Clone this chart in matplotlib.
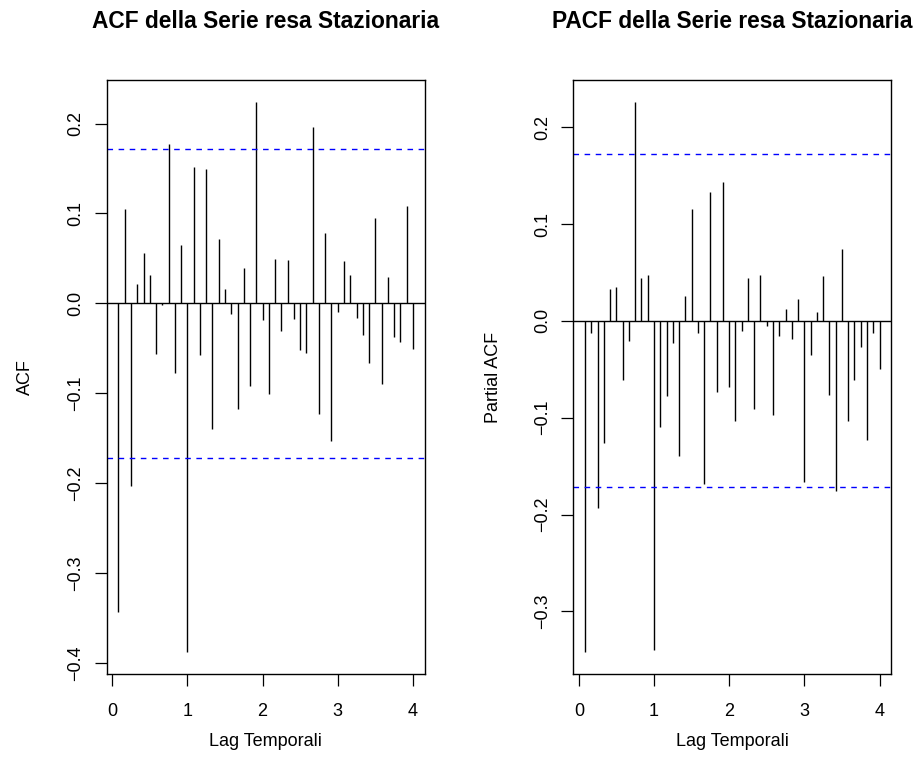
import numpy as np
import matplotlib
matplotlib.use("Agg")
import matplotlib.pyplot as plt

plt.rcParams['font.family'] = ['Liberation Sans', 'DejaVu Sans']

# Lags (in years, frequency 12)
lags = np.arange(1, 49) / 12

acf_vals = [-0.343, 0.105, -0.203, 0.021, 0.056, 0.031, -0.056, -0.002,
            0.177, -0.077, 0.065, -0.388, 0.152, -0.058, 0.150, -0.140,
            0.071, 0.016, -0.012, -0.118, 0.039, -0.092, 0.224, -0.019,
            -0.101, 0.049, -0.031, 0.048, -0.018, -0.052, -0.055, 0.196,
            -0.123, 0.078, -0.153, -0.010, 0.047, 0.031, -0.016, -0.035,
            -0.066, 0.095, -0.090, 0.029, -0.037, -0.043, 0.108, -0.051]

pacf_vals = [-0.342, -0.013, -0.193, -0.126, 0.033, 0.035, -0.061, -0.021,
             0.226, 0.044, 0.047, -0.340, -0.110, -0.078, -0.023, -0.140,
             0.026, 0.115, -0.013, -0.168, 0.133, -0.073, 0.143, -0.068,
             -0.103, -0.011, 0.044, -0.091, 0.047, -0.005, -0.097, -0.016,
             0.012, -0.019, 0.023, -0.166, -0.035, 0.009, 0.046, -0.077,
             -0.176, 0.074, -0.103, -0.061, -0.027, -0.123, -0.013, -0.050]

conf_limit = 0.172

titles = ["ACF della Serie resa Stazionaria", "PACF della Serie resa Stazionaria"]
ylabels = ["ACF", "Partial ACF"]
xlabel = "Lag Temporali"
xticks = [0, 1, 2, 3, 4]
yticks_acf = [-0.4, -0.3, -0.2, -0.1, 0.0, 0.1, 0.2]
yticks_pacf = [-0.3, -0.2, -0.1, 0.0, 0.1, 0.2]

W, H = 917, 769
fig = plt.figure(figsize=(W / 100, H / 100), dpi=100)

box_top, box_bot = 80, 674
lefts = [106.7, 573.3]
box_w = 318
box_h = box_bot - box_top

BASE = 13.0
TITLE = 16.4


def r_range(vals):
    lo, hi = min(vals), max(vals)
    lo = min(lo, -conf_limit)
    hi = max(hi, conf_limit)
    d = (hi - lo) * 0.04
    return lo - d, hi + d


ylabel_x = [25, 493]

for i, (vals, yt) in enumerate([(acf_vals, yticks_acf), (pacf_vals, yticks_pacf)]):
    ax = fig.add_axes([lefts[i] / W, (H - box_bot) / H, box_w / W, box_h / H])
    ax.vlines(lags, 0, vals, color='black', lw=1.0)
    ax.axhline(0, color='black', lw=1.0)
    for c in (conf_limit, -conf_limit):
        ax.axhline(c, color='#0000FF', lw=1.0, dashes=(4, 4))
    xr = (lags.max() - lags.min()) * 0.04
    ax.set_xlim(lags.min() - xr, lags.max() + xr)
    ax.set_ylim(*r_range(vals))
    ax.set_xticks(xticks)
    ax.set_xticklabels([str(t) for t in xticks], fontsize=BASE)
    ax.set_yticks(yt)
    ax.set_yticklabels([("%.1f" % t).replace('-', '\u2212') for t in yt],
                       fontsize=BASE, rotation=90, va='center')
    ax.tick_params(direction='out', length=8.6, width=0.9, color='black')
    ax.tick_params(axis='x', pad=12)
    ax.tick_params(axis='y', pad=7.5)
    for s in ax.spines.values():
        s.set_linewidth(1.0)
        s.set_color('black')
    ax.set_ylabel(ylabels[i], fontsize=BASE, va='center')
    ax.yaxis.set_label_coords((ylabel_x[i] - lefts[i]) / box_w, 0.5)
    ax.set_xlabel(xlabel, fontsize=BASE, va='center')
    ax.xaxis.set_label_coords(0.5, -(741 - box_bot) / box_h)
    ax.text(0.5, 1 + (box_top - 21) / box_h, titles[i], transform=ax.transAxes,
            ha='center', va='center', fontsize=TITLE, fontweight='bold')

fig.savefig("out.png", dpi=100)
